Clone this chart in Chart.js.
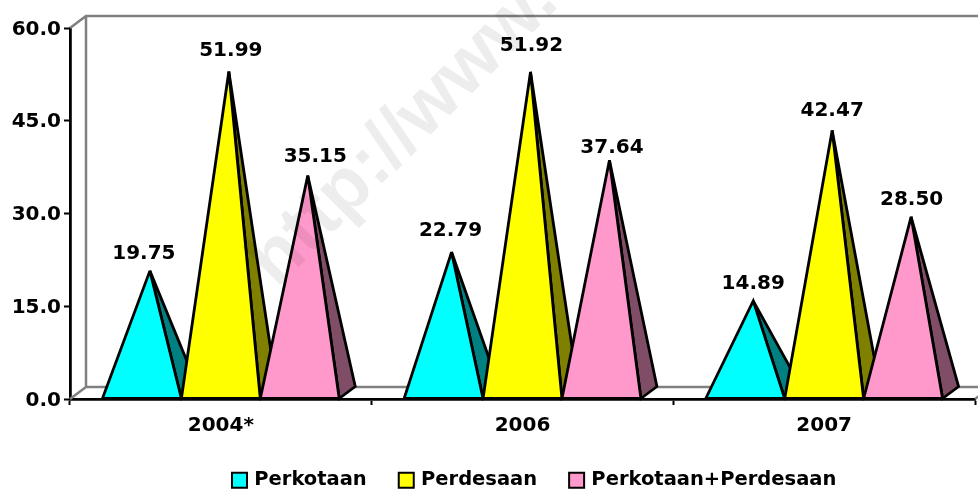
<!DOCTYPE html>
<html>
<head>
<meta charset="utf-8">
<title>Perkotaan Perdesaan</title>
<style>
  html, body { margin: 0; padding: 0; background: #fff; overflow: hidden; }
  canvas { display: block; }
</style>
</head>
<body>
<canvas id="myChart" width="978" height="491"></canvas>
<script src="https://cdn.jsdelivr.net/npm/chart.js"></script>
<script>
const categories = ['2004*', '2006', '2007'];
const perkotaan = [19.75, 22.79, 14.89];
const perdesaan = [51.99, 51.92, 42.47];
const gabungan = [35.15, 37.64, 28.50];
const seriesNames = ['Perkotaan', 'Perdesaan', 'Perkotaan+Perdesaan'];
const watermarkText = 'http://www.';

// front colour and darker side colour of each pyramid
const frontColors = ['#00FFFF', '#FFFF00', '#FF99CC'];
const sideColors = ['#008080', '#808000', '#804D66'];

// depth of the fake 3d box
const depthX = 16;
const depthY = 12;

// labels sit by hand in the original, so nudge them from the tip
const labelDx = [[-6, -1, 0], [2, 1, 0], [7.5, 2.5, 0.5]];
const labelDy = [[-17, -21, -17], [-21, -26, -20], [-19, -12, -17]];

const box3d = {
  id: 'box3d',
  beforeDatasetsDraw(chart) {
    const { ctx, chartArea: { left, right, top, bottom } } = chart;
    ctx.save();
    ctx.strokeStyle = '#808080';
    ctx.lineWidth = 2.5;
    ctx.beginPath();
    ctx.moveTo(left, top);
    ctx.lineTo(left + depthX, top - depthY);
    ctx.lineTo(right + depthX, top - depthY);
    ctx.moveTo(left + depthX, top - depthY);
    ctx.lineTo(left + depthX, bottom - depthY);
    ctx.lineTo(right + depthX, bottom - depthY);
    ctx.moveTo(left, bottom);
    ctx.lineTo(left + depthX, bottom - depthY);
    ctx.moveTo(right, bottom);
    ctx.lineTo(right + depthX, bottom - depthY);
    ctx.stroke();
    ctx.restore();
  }
};

function drawPyramid(ctx, bar, i) {
  const half = bar.width / 2;
  const tipX = bar.x + depthX / 2;
  const tipY = bar.y - depthY / 2;

  ctx.beginPath();
  ctx.moveTo(bar.x + half, bar.base);
  ctx.lineTo(bar.x + half + depthX, bar.base - depthY);
  ctx.lineTo(tipX, tipY);
  ctx.closePath();
  ctx.fillStyle = sideColors[i];
  ctx.fill();
  ctx.stroke();

  ctx.beginPath();
  ctx.moveTo(bar.x - half, bar.base);
  ctx.lineTo(bar.x + half, bar.base);
  ctx.lineTo(tipX, tipY);
  ctx.closePath();
  ctx.fillStyle = frontColors[i];
  ctx.fill();
  ctx.stroke();
}

// replaces the flat bars with pyramids on the same x/y/base, later series on top
const pyramids = {
  id: 'pyramids',
  beforeDatasetsDraw(chart) {
    const { ctx } = chart;
    ctx.save();
    ctx.strokeStyle = '#000';
    ctx.lineWidth = 2.8;
    ctx.lineJoin = 'miter';
    ctx.miterLimit = 3;
    chart.data.datasets.forEach((ds, i) => {
      chart.getDatasetMeta(i).data.forEach((bar) => drawPyramid(ctx, bar, i));
    });
    ctx.restore();
  },
  beforeDatasetDraw() {
    return false;
  }
};

const valueLabels = {
  id: 'valueLabels',
  afterDatasetsDraw(chart) {
    const { ctx } = chart;
    ctx.save();
    ctx.font = 'bold 20px "DejaVu Sans"';
    ctx.fillStyle = '#000';
    ctx.textAlign = 'center';
    ctx.textBaseline = 'middle';
    chart.data.datasets.forEach((ds, i) => {
      chart.getDatasetMeta(i).data.forEach((bar, j) => {
        ctx.fillText(ds.data[j].toFixed(2),
          bar.x + depthX / 2 + labelDx[i][j],
          bar.y - depthY / 2 + labelDy[i][j]);
      });
    });
    ctx.restore();
  }
};

const watermark = {
  id: 'watermark',
  afterDraw(chart) {
    const { ctx } = chart;
    ctx.save();
    ctx.translate(262, 274);
    ctx.rotate(-Math.PI / 4);
    ctx.font = 'bold 75px "Liberation Sans"';
    ctx.fillStyle = 'rgba(0, 0, 0, 0.07)';
    ctx.textBaseline = 'middle';
    ctx.fillText(watermarkText, 0, 0);
    ctx.restore();
  }
};

// legend is off centre in the original
const moveLegend = {
  id: 'moveLegend',
  afterLayout(chart) {
    const legend = chart.legend;
    const pad = legend.options.labels.padding;
    legend.left = 234.5 - pad;
    legend.right = 978;
    legend.top = 470.5 - pad;
  }
};

const data = {
  labels: categories,
  datasets: [perkotaan, perdesaan, gabungan].map((values, i) => ({
    label: seriesNames[i],
    data: values,
    backgroundColor: frontColors[i],
    borderColor: '#000',
    borderWidth: 2,
    categoryPercentage: 0.785,
    barPercentage: 1
  }))
};

const config = {
  type: 'bar',
  data,
  options: {
    responsive: false,
    animation: false,
    layout: { padding: { top: 28, right: 3, left: 0, bottom: 0 } },
    plugins: {
      tooltip: { enabled: false },
      legend: {
        position: 'bottom',
        align: 'start',
        maxHeight: 1,
        labels: {
          usePointStyle: true,
          pointStyle: 'rect',
          boxWidth: 10,
          boxHeight: 15,
          padding: 34.5,
          color: '#000',
          font: { family: '"DejaVu Sans"', size: 19.5, weight: 'bold' }
        }
      }
    },
    scales: {
      x: {
        afterFit(scale) { scale.height = 91; },
        border: { color: '#000', width: 2.8 },
        grid: { display: true, drawOnChartArea: false, drawTicks: true, tickLength: 6, tickColor: '#000', tickWidth: 2, offset: true },
        ticks: { padding: 9, color: '#000', maxRotation: 0, font: { family: '"DejaVu Sans"', size: 20, weight: 'bold' } }
      },
      y: {
        min: 0,
        max: 60,
        afterFit(scale) { scale.width = 70; },
        border: { color: '#000', width: 2.8 },
        grid: { display: true, drawOnChartArea: false, drawTicks: true, tickLength: 6, tickColor: '#000', tickWidth: 2 },
        ticks: {
          stepSize: 15,
          padding: 3,
          labelOffset: 1.5,
          color: '#000',
          font: { family: '"DejaVu Sans"', size: 20, weight: 'bold' },
          callback: (value) => value.toFixed(1)
        }
      }
    }
  },
  plugins: [box3d, pyramids, valueLabels, watermark, moveLegend]
};

const myChart = new Chart(document.getElementById('myChart'), config);
</script>
</body>
</html>
